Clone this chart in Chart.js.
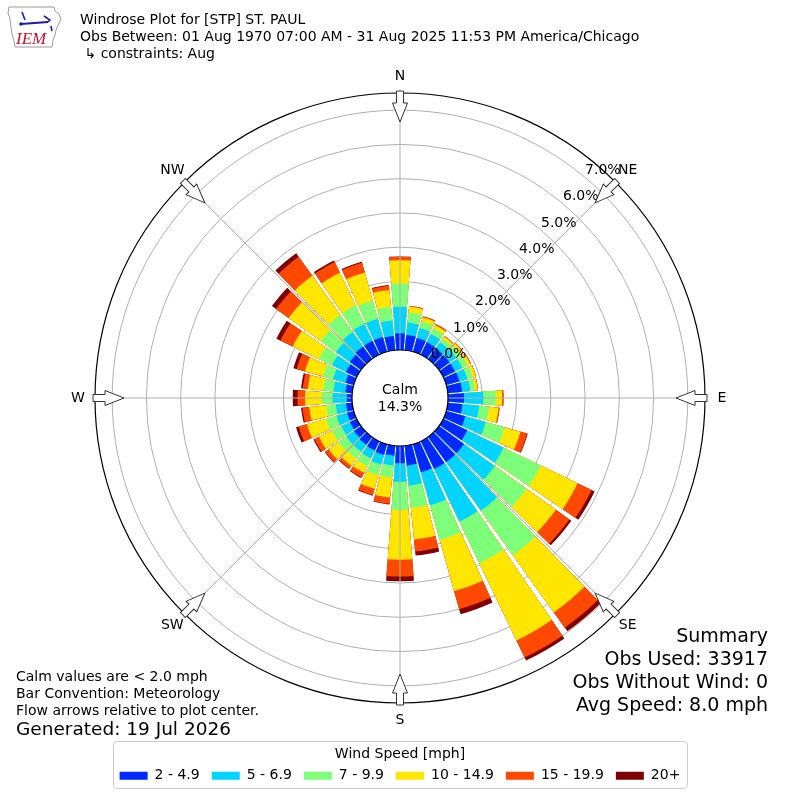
<!DOCTYPE html>
<html>
<head>
<meta charset="utf-8">
<title>Windrose Plot for [STP] ST. PAUL</title>
<script src="https://cdn.jsdelivr.net/npm/chart.js@4.4.1/dist/chart.umd.min.js"></script>
<style>
  html, body { margin: 0; padding: 0; background: #fff; }
  body { width: 800px; height: 800px; position: relative; overflow: hidden; font-family: "DejaVu Sans", sans-serif; color: #000; }
  #rose { position: absolute; left: 0; top: 0; }
  .txt { position: absolute; white-space: pre; }
  #header { left: 80px; top: 11px; font-size: 14px; line-height: 17px; }
  #notes { left: 16px; top: 668px; font-size: 14px; line-height: 17px; }
  #generated { font-size: 18.5px; line-height: 20px; }
  #summary { right: 32px; top: 624px; font-size: 19px; line-height: 23px; text-align: right; }
  #legendBox { position: absolute; left: 113px; top: 741px; width: 573px; height: 46px; border: 1px solid #cccccc; border-radius: 4px; overflow: hidden; }
  #legendCanvas { position: absolute; left: -24px; top: 2px; }
  #logo { position: absolute; left: 4px; top: 3px; }
</style>
</head>
<body>
<canvas id="rose" width="800" height="800"></canvas>

<svg id="logo" width="60" height="48" viewBox="0 0 60 48">
  <path d="M5 4 L50 4 L51 8 L55 11 L57 16 L54 22 L52 27 L51 32 L49 37 L48 44 L11 44 L10 38 L8 31 L7 24 L6 16 L4 10 Z" fill="#fff" stroke="#9a9a9a" stroke-width="1"/>
  <path d="M17 21 L44 19" stroke="#1c1ca8" stroke-width="2" fill="none"/>
  <path d="M18 9 L21 17 M40 13 L46 17 L44 19 M47 23 L48 28" stroke="#1c1ca8" stroke-width="1.6" fill="none"/>
  <circle cx="17" cy="21" r="1.8" fill="#1c1ca8"/>
  <text x="12" y="41" font-family="Liberation Serif" font-style="italic" font-size="17" fill="#c8102e">IEM</text>
</svg>

<div id="header" class="txt">Windrose Plot for [STP] ST. PAUL
Obs Between: 01 Aug 1970 07:00 AM - 31 Aug 2025 11:53 PM America/Chicago
 ↳ constraints: Aug</div>

<div id="notes" class="txt">Calm values are &lt; 2.0 mph
Bar Convention: Meteorology
Flow arrows relative to plot center.
<span id="generated">Generated: 19 Jul 2026</span></div>

<div id="summary" class="txt">Summary
Obs Used: 33917
Obs Without Wind: 0
Avg Speed: 8.0 mph</div>

<div id="legendBox"><canvas id="legendCanvas" width="620" height="120"></canvas></div>

<script>
// -------------------------------
// Data (percent of observations)
// -------------------------------
const dirDegrees = [0, 10, 20, 30, 40, 50, 60, 70, 80, 90, 100, 110, 120, 130, 140, 150, 160, 170,
                    180, 190, 200, 210, 220, 230, 240, 250, 260, 270, 280, 290, 300, 310, 320, 330, 340, 350];

const speedBins = ['2 - 4.9', '5 - 6.9', '7 - 9.9', '10 - 14.9', '15 - 19.9', '20+'];

const speed2to5 = [0.49, 0.45, 0.42, 0.40, 0.38, 0.38, 0.38, 0.40, 0.42, 0.47, 0.43, 0.58, 0.78, 0.90, 0.90, 0.90, 0.85, 0.58,
                   0.50, 0.29, 0.32, 0.30, 0.28, 0.25, 0.22, 0.20, 0.18, 0.15, 0.20, 0.25, 0.35, 0.40, 0.45, 0.45, 0.45, 0.42];
const speed5to7 = [0.77, 0.36, 0.30, 0.27, 0.22, 0.24, 0.24, 0.24, 0.24, 0.56, 0.49, 0.62, 1.17, 1.10, 1.75, 1.70, 1.00, 0.59,
                   0.54, 0.29, 0.30, 0.25, 0.25, 0.28, 0.28, 0.32, 0.30, 0.42, 0.35, 0.38, 0.45, 0.50, 0.52, 0.55, 0.55, 0.45];
const speed7to10 = [0.68, 0.30, 0.20, 0.18, 0.13, 0.14, 0.16, 0.16, 0.14, 0.36, 0.29, 0.57, 1.20, 1.15, 1.60, 1.35, 1.05, 0.65,
                    0.82, 0.35, 0.32, 0.25, 0.25, 0.28, 0.30, 0.32, 0.28, 0.31, 0.30, 0.30, 0.42, 0.55, 0.62, 0.60, 0.55, 0.40];
const speed10to15 = [0.68, 0.17, 0.13, 0.11, 0.08, 0.10, 0.10, 0.10, 0.08, 0.19, 0.28, 0.48, 1.20, 1.05, 2.05, 2.50, 1.55, 0.93,
                     1.46, 0.59, 0.41, 0.22, 0.25, 0.35, 0.42, 0.58, 0.50, 0.49, 0.45, 0.55, 0.85, 1.15, 1.40, 1.05, 0.85, 0.50];
const speed15to20 = [0.10, 0.02, 0.03, 0.03, 0.02, 0.02, 0.02, 0.01, 0.01, 0.04, 0.03, 0.20, 0.45, 0.48, 0.55, 0.55, 0.55, 0.35,
                     0.49, 0.18, 0.19, 0.15, 0.10, 0.12, 0.15, 0.25, 0.20, 0.22, 0.15, 0.25, 0.40, 0.45, 0.68, 0.35, 0.30, 0.12];
const speed20plus = [0.01, 0.00, 0.00, 0.00, 0.00, 0.00, 0.00, 0.00, 0.00, 0.00, 0.00, 0.02, 0.10, 0.07, 0.13, 0.10, 0.15, 0.12,
                     0.14, 0.02, 0.02, 0.02, 0.02, 0.02, 0.03, 0.08, 0.04, 0.14, 0.05, 0.10, 0.13, 0.15, 0.13, 0.05, 0.03, 0.02];

const radialTicks = [0, 1, 2, 3, 4, 5, 6, 7];
const compassLabels = ['N', 'NE', 'E', 'SE', 'S', 'SW', 'W', 'NW'];
const calmPercent = 14.3;

// -------------------------------
// Styling
// -------------------------------
const binColors = ['#0028ff', '#00d4ff', '#7dff7a', '#ffe600', '#ff4800', '#7f0000'];
const R_MAX = 7.5;          // outer ring value
const CALM_FRAC = 48 / 305; // calm circle as fraction of plot radius
const R_MIN = -CALM_FRAC * R_MAX / (1 - CALM_FRAC);
const BAR_DEG = 8.7;
const GAP_DEG = 10 - BAR_DEG;

Chart.defaults.font.family = '"DejaVu Sans", sans-serif';
Chart.defaults.color = '#000';

// -------------------------------
// Build stacked (cumulative) polar datasets
// every direction is followed by a thin empty gap slice
// -------------------------------
const binSeries = [speed2to5, speed5to7, speed7to10, speed10to15, speed15to20, speed20plus];
const sliceLabels = [];
dirDegrees.forEach(d => { sliceLabels.push(d + '°'); sliceLabels.push(''); });

const roseDatasets = binSeries.map((series, k) => {
    const data = [];
    dirDegrees.forEach((d, i) => {
        let cum = 0;
        for (let j = 0; j <= k; j++) cum += binSeries[j][i];
        data.push(cum);
        data.push(0);
    });
    return {
        label: speedBins[k],
        data: data,
        backgroundColor: ctx => ctx.dataIndex % 2 ? 'rgba(0,0,0,0)' : binColors[k],
        borderWidth: 0,
        angle: ctx => ctx.dataIndex % 2 ? GAP_DEG : BAR_DEG
    };
});

// -------------------------------
// Decorations: spokes, calm circle, labels, arrows
// -------------------------------
const roseDecor = {
    id: 'roseDecor',
    afterDraw(chart) {
        const s = chart.scales.r;
        const ctx = chart.ctx;
        const cx = s.xCenter, cy = s.yCenter;
        const r0 = s.getDistanceFromCenterForValue(0);
        const rOut = s.getDistanceFromCenterForValue(R_MAX);
        const pt = (deg, r) => [cx + r * Math.sin(deg * Math.PI / 180), cy - r * Math.cos(deg * Math.PI / 180)];

        ctx.save();
        ctx.strokeStyle = '#b0b0b0';
        ctx.lineWidth = 1;
        compassLabels.forEach((lab, i) => {
            const a = pt(i * 45, r0), b = pt(i * 45, rOut);
            ctx.beginPath();
            ctx.moveTo(a[0], a[1]);
            ctx.lineTo(b[0], b[1]);
            ctx.stroke();
        });

        // calm circle
        ctx.beginPath();
        ctx.arc(cx, cy, r0, 0, 2 * Math.PI);
        ctx.fillStyle = '#fff';
        ctx.fill();
        ctx.strokeStyle = '#000';
        ctx.lineWidth = 1.2;
        ctx.stroke();

        ctx.fillStyle = '#000';
        ctx.font = '14px "DejaVu Sans"';
        ctx.textAlign = 'center';
        ctx.textBaseline = 'middle';
        ctx.fillText('Calm', cx, cy - 8);
        ctx.fillText(calmPercent.toFixed(1) + '%', cx, cy + 9);

        // radial tick labels
        ctx.textAlign = 'left';
        radialTicks.forEach(v => {
            const p = pt(40, s.getDistanceFromCenterForValue(v));
            ctx.fillText(v.toFixed(1) + '%', p[0], p[1] - 7);
        });

        // compass arrows pointing at the centre + labels
        ctx.textAlign = 'center';
        compassLabels.forEach((lab, i) => {
            const deg = i * 45;
            ctx.save();
            ctx.translate(cx, cy);
            ctx.rotate(deg * Math.PI / 180);
            ctx.beginPath();
            ctx.moveTo(-3.5, -(rOut + 2));
            ctx.lineTo(3.5, -(rOut + 2));
            ctx.lineTo(3.5, -(rOut - 10));
            ctx.lineTo(7.5, -(rOut - 10));
            ctx.lineTo(0, -(rOut - 29));
            ctx.lineTo(-7.5, -(rOut - 10));
            ctx.lineTo(-3.5, -(rOut - 10));
            ctx.closePath();
            ctx.fillStyle = '#fff';
            ctx.fill();
            ctx.strokeStyle = '#333';
            ctx.lineWidth = 1;
            ctx.stroke();
            ctx.restore();
            const p = pt(deg, rOut + 17);
            ctx.fillStyle = '#000';
            ctx.fillText(lab, p[0], p[1]);
        });
        ctx.restore();
    }
};

// -------------------------------
// Windrose chart
// -------------------------------
new Chart(document.getElementById('rose'), {
    type: 'polarArea',
    data: { labels: sliceLabels, datasets: roseDatasets },
    options: {
        responsive: false,
        animation: false,
        events: [],
        layout: { padding: { left: 95, right: 95, top: 93, bottom: 97 } },
        plugins: { legend: { display: false }, tooltip: { enabled: false } },
        scales: {
            r: {
                min: R_MIN,
                max: R_MAX,
                beginAtZero: false,
                startAngle: -BAR_DEG / 2,
                afterBuildTicks: scale => {
                    scale.ticks = radialTicks.concat([R_MAX]).map(v => ({ value: v }));
                },
                ticks: { display: false, z: 1 },
                grid: {
                    circular: true,
                    color: c => (c.tick && c.tick.value === R_MAX) ? '#000' : '#b0b0b0',
                    lineWidth: c => (c.tick && c.tick.value === R_MAX) ? 1.2 : 1
                },
                angleLines: { display: false },
                pointLabels: { display: false }
            }
        }
    },
    plugins: [roseDecor]
});

// -------------------------------
// Legend (Chart.js legend only)
// -------------------------------
new Chart(document.getElementById('legendCanvas'), {
    type: 'bar',
    data: {
        labels: [],
        datasets: speedBins.map((lab, k) => ({ label: lab, data: [], backgroundColor: binColors[k], borderWidth: 0 }))
    },
    options: {
        responsive: false,
        animation: false,
        events: [],
        scales: { x: { display: false }, y: { display: false } },
        plugins: {
            tooltip: { enabled: false },
            legend: {
                position: 'top',
                maxHeight: 110,
                title: { display: true, text: 'Wind Speed [mph]', color: '#000', font: { size: 14 }, padding: { top: 3, bottom: -7 } },
                labels: { boxWidth: 28, boxHeight: 8, color: '#000', font: { size: 14 }, padding: 12 }
            }
        }
    }
});
</script>
</body>
</html>
